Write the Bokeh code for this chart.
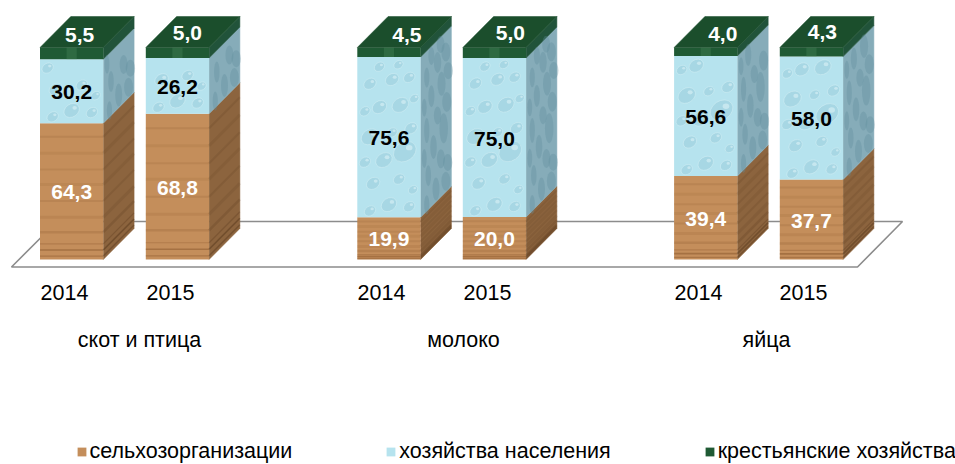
from bokeh.plotting import figure
from bokeh.embed import file_html
from bokeh.resources import INLINE
from bokeh.models import Legend, LegendItem
from bokeh.core.properties import value

groups = ["скот и птица", "молоко", "яйца"]
years = ["2014", "2015", "2014", "2015", "2014", "2015"]
farm_orgs = [64.3, 68.8, 19.9, 20.0, 39.4, 37.7]
households = [30.2, 26.2, 75.6, 75.0, 56.6, 58.0]
peasant = [5.5, 5.0, 4.5, 5.0, 4.0, 4.3]
labels_orgs = ["64,3", "68,8", "19,9", "20,0", "39,4", "37,7"]
labels_house = ["30,2", "26,2", "75,6", "75,0", "56,6", "58,0"]
labels_peasant = ["5,5", "5,0", "4,5", "5,0", "4,0", "4,3"]
series_names = ["сельхозорганизации", "хозяйства населения", "крестьянские хозяйства"]

# layout
W, H = 955, 464
bar_left = [39.5, 145.3, 356.8, 462.3, 673.6, 779.3]
bar_w = 63.3
PX = 2.12                 # pixels per percent
dx = 30.8
dy = 31 / PX
y_img = lambda v: (259 - v) / PX   # reference pixel row -> value
year_x = [64, 170, 381, 487, 698, 803]
group_x = [139, 463, 766]
top_label_dx = [8, 10, 18, 16, 17, 11]
top_label_dy = [18, 20, 17, 20, 18, 20.5]

WOOD, WOOD_S = "#c48e5b", "#8c643e"
WATER, WATER_S = "#b6e3ee", "#86acb9"
GREEN, GREEN_T, GREEN_S = "#1f5a34", "#1b4e2c", "#21533a"

p = figure(width=W, height=H, x_range=(0, W), y_range=(y_img(H), y_img(0)),
           output_backend="svg", toolbar_location=None, min_border=0)
p.xaxis.visible = False
p.yaxis.visible = False
p.grid.visible = False
p.outline_line_color = None
p.background_fill_color = None
p.border_fill_color = None

# floor
fy0, fy1 = y_img(266.5), y_img(221)
p.patch([11, 857, 902, 56.5], [fy0, fy0, fy1, fy1], fill_color=None,
        line_color="#8c8c8c", line_width=1.6)

bottom2 = farm_orgs
bottom3 = [a + b for a, b in zip(farm_orgs, households)]
top = [a + b for a, b in zip(bottom3, peasant)]
xl = bar_left
xr = [x + bar_w for x in bar_left]

# side faces
def side(b, t, col):
    xs = [[r, r + dx, r + dx, r] for r in xr]
    ys = [[u, u + dy, v + dy, v] for u, v in zip(b, t)]
    p.patches(xs, ys, fill_color=col, line_color=col, line_width=0.5)

side([0] * 6, bottom2, WOOD_S)
side(bottom2, bottom3, WATER_S)
side(bottom3, top, GREEN_S)

# front faces
r_wood = p.quad(left=xl, right=xr, bottom=[0] * 6, top=bottom2, fill_color=WOOD, line_color=None)
r_water = p.quad(left=xl, right=xr, bottom=bottom2, top=bottom3, fill_color=WATER, line_color=None)
r_green = p.quad(left=xl, right=xr, bottom=bottom3, top=top, fill_color=GREEN, line_color=None)

# top face
p.patches([[l, l + dx, r + dx, r] for l, r in zip(xl, xr)],
          [[t, t + dy, t + dy, t] for t in top],
          fill_color=GREEN_T, line_color=GREEN_T, line_width=0.5)
# lighter glint on the green front
p.quad(left=[l + bar_w * .42 for l in xl], right=[l + bar_w * .58 for l in xl],
       bottom=bottom3, top=top, fill_color="#4b8a5f", fill_alpha=.35, line_color=None)

# wood grain (relative height inside the segment, strength, width)
grain = [(0.025, .36, 1.4), (0.07, .42, 1.6), (0.115, .26, 1.2), (0.20, .18, 2.5), (0.31, .12, 3),
         (0.43, .14, 2), (0.55, .1, 3), (0.66, .13, 2), (0.78, .1, 3), (0.90, .14, 2)]
for f, a, w in grain:
    ys = [f * h for h in farm_orgs]
    p.segment(xl, ys, xr, ys, line_color="#7a4a22", line_alpha=a, line_width=w)
    p.segment(xr, ys, [x + dx for x in xr], [y + dy for y in ys],
              line_color="#4d2f16", line_alpha=a, line_width=w)

# water bubbles (relative across, percent above the segment's bottom, size)
bubbles = [(.20, 3, 11), (.5, 6, 15), (.82, 5, 11), (.25, 16, 13), (.66, 18, 11), (.88, 13, 9),
           (.12, 26, 11), (.42, 27, 16), (.75, 31, 22), (.2, 38, 17), (.55, 40, 10), (.85, 42, 12),
           (.12, 50, 10), (.35, 52, 14), (.68, 53, 16), (.9, 56, 9), (.2, 63, 12), (.55, 65, 13),
           (.82, 66, 11), (.35, 71, 10), (.65, 72, 9)]
for u, v, s in bubbles:
    xs, ys, xs2, ys2 = [], [], [], []
    for l, b, h in zip(xl, bottom2, households):
        if v + s / 2 / PX < h:
            xs.append(l + u * bar_w)
            ys.append(b + v)
            xs2.append(l + bar_w + u * dx)
            ys2.append(b + v + u * dy)
    p.ellipse(xs, ys, width=s * 1.1, height=s * .85 / PX, angle=.6, fill_color="#86bccd", fill_alpha=.3,
              line_color="#d9f2f7", line_alpha=.45, line_width=1)
    p.ellipse([x + s * .2 for x in xs], [y + s * .18 / PX for y in ys], width=s * .3, height=s * .25 / PX,
              fill_color="#eefafc", fill_alpha=.45, line_color=None)
    p.ellipse(xs2, ys2, width=u * 6 + 4, height=(s + 8) / PX, fill_color="#5d8d9d", fill_alpha=.32,
              line_color=None)

# labels
def labels(xs, ys, txt, col, size="21px", bold=True):
    p.text(xs, ys, text=txt, text_color=col, text_align="center", text_baseline="middle",
           text_font=value("Liberation Sans"), text_font_size=size,
           text_font_style="bold" if bold else "normal")

cx = [x + bar_w / 2 for x in xl]
labels(cx, [b / 2 - 1 / PX for b in bottom2], labels_orgs, "#ffffff")
labels(cx, [b + h / 2 - 1 / PX for b, h in zip(bottom2, households)], labels_house, "#000000")
labels([c + o for c, o in zip(cx, top_label_dx)],
       [b + o / PX + h / 2 for b, h, o in zip(bottom3, peasant, top_label_dy)], labels_peasant, "#ffffff")
labels(year_x, [y_img(292)] * 6, years, "#000000", "21.5px", False)
labels(group_x, [y_img(339)] * 3, groups, "#000000", "21.5px", False)

legend = Legend(items=[LegendItem(label=series_names[0], renderers=[r_wood]),
                       LegendItem(label=series_names[1], renderers=[r_water]),
                       LegendItem(label=series_names[2], renderers=[r_green])],
                orientation="horizontal", location=(75.5, 0), border_line_color=None,
                background_fill_color=None, background_fill_alpha=0,
                glyph_width=11, glyph_height=11, label_standoff=3, spacing=93,
                padding=3, margin=0, label_text_font="Liberation Sans",
                label_text_font_size="21.5px", label_text_color="#000000")
p.add_layout(legend)

open("out.html", "w").write(file_html(p, INLINE))
